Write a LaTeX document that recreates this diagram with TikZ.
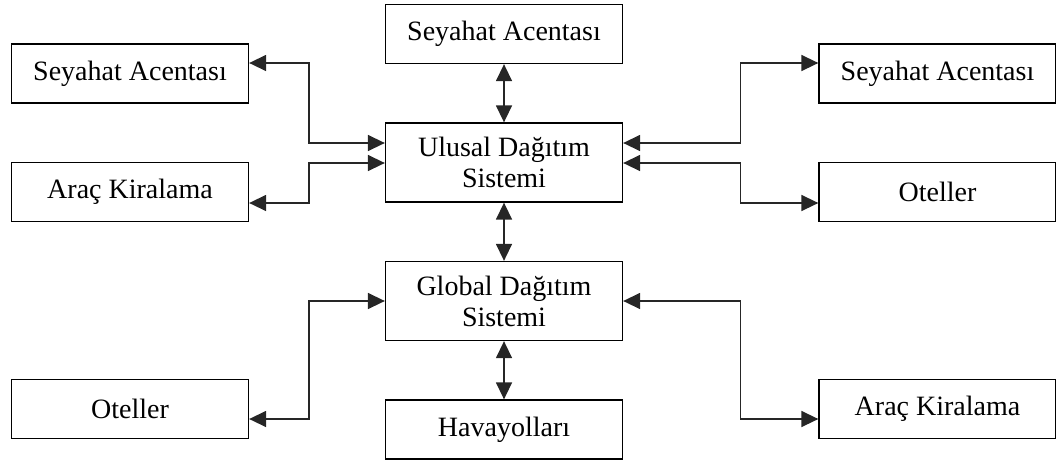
\documentclass[tikz,border=0pt]{standalone}
\usepackage{fontspec}
\setmainfont{Liberation Serif}
\usetikzlibrary{arrows.meta}
\begin{document}
\begin{tikzpicture}[x=1pt,y=-1pt,
  box/.style={draw=black,line width=1.3pt,rectangle,minimum width=237pt,
    inner sep=0pt,align=center,font=\fontsize{28}{31}\selectfont},
  onebox/.style={box,minimum height=59pt},
  twobox/.style={box,minimum height=79pt},
  link/.style={line width=1.5pt,draw=black!85,line join=miter,
    {Triangle[length=17pt,width=16pt]}-{Triangle[length=17pt,width=16pt]}}]
\useasboundingbox (0,0) rectangle (1056,461);
% centre column
\node[onebox] (tsa) at (504,34) {Seyahat Acentası};
\node[twobox] (uds) at (504,162.5) {Ulusal Dağıtım\\Sistemi};
\node[twobox] (gds) at (504,301) {Global Dağıtım\\Sistemi};
\node[onebox] (hav) at (504,429.5) {Havayolları};
% left column
\node[onebox] (lsa) at (130,73.5) {Seyahat Acentası};
\node[onebox] (lak) at (130,192) {Araç Kiralama};
\node[onebox] (lot) at (130,409) {Oteller};
% right column
\node[onebox] (rsa) at (937.5,73.5) {Seyahat Acentası};
\node[onebox] (rot) at (937.5,192) {Oteller};
\node[onebox] (rak) at (937.5,409) {Araç Kiralama};
% vertical links
\draw[link] (tsa) -- (uds);
\draw[link] (uds) -- (gds);
\draw[link] (gds) -- (hav);
% left links
\draw[link] ([yshift=10.5pt]lsa.east) -- ++(60,0) |- ([yshift=19.5pt]uds.west);
\draw[link] ([yshift=-11pt]lak.east) -- ++(60,0) |- ([yshift=-0.5pt]uds.west);
\draw[link] ([yshift=-10pt]lot.east) -- ++(60,0) |- (gds.west);
% right links
\draw[link] ([yshift=10.5pt]rsa.west) -- ++(-78,0) |- ([yshift=19.5pt]uds.east);
\draw[link] ([yshift=-11pt]rot.west) -- ++(-78,0) |- ([yshift=-0.5pt]uds.east);
\draw[link] ([yshift=-10pt]rak.west) -- ++(-78,0) |- (gds.east);
\end{tikzpicture}
\end{document}
